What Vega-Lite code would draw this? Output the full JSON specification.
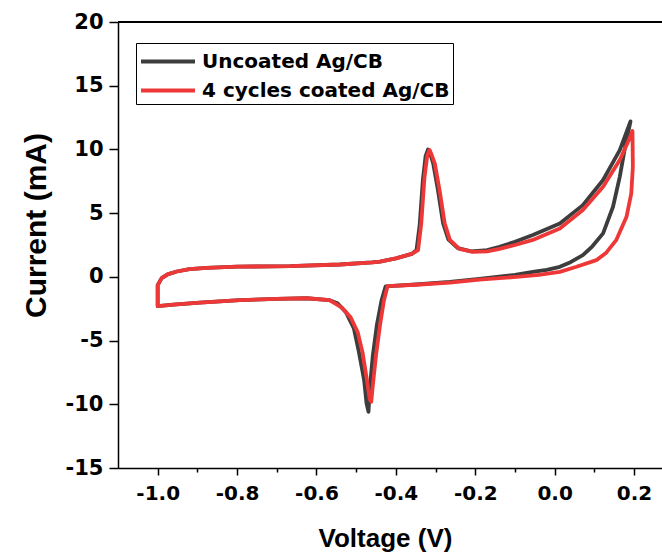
{
  "$schema": "https://vega.github.io/schema/vega-lite/v6.json",
  "width": 544,
  "height": 446,
  "autosize": {"type": "none"},
  "padding": {"left": 118, "top": 22, "right": 0, "bottom": 91},
  "background": "white",
  "config": {
    "view": {"stroke": null},
    "font": "DejaVu Sans",
    "axis": {"domainColor": "black", "domainWidth": 1.5, "tickColor": "black", "tickWidth": 1.5, "labelColor": "black", "titleColor": "black", "labelFont": "DejaVu Sans", "labelFontWeight": "bold", "titleFont": "Liberation Sans", "titleFontWeight": "bold", "grid": false}
  },
  "data": {"values": [
    {"s":"Uncoated Ag/CB","k":0,"v":-1.0,"i":-2.3},
    {"s":"Uncoated Ag/CB","k":1,"v":-1.0,"i":-0.65},
    {"s":"Uncoated Ag/CB","k":2,"v":-0.99,"i":-0.1},
    {"s":"Uncoated Ag/CB","k":3,"v":-0.975,"i":0.2},
    {"s":"Uncoated Ag/CB","k":4,"v":-0.952,"i":0.42},
    {"s":"Uncoated Ag/CB","k":5,"v":-0.92,"i":0.6},
    {"s":"Uncoated Ag/CB","k":6,"v":-0.877,"i":0.7},
    {"s":"Uncoated Ag/CB","k":7,"v":-0.8,"i":0.8},
    {"s":"Uncoated Ag/CB","k":8,"v":-0.667,"i":0.84},
    {"s":"Uncoated Ag/CB","k":9,"v":-0.541,"i":0.97},
    {"s":"Uncoated Ag/CB","k":10,"v":-0.46,"i":1.13},
    {"s":"Uncoated Ag/CB","k":11,"v":-0.44,"i":1.2},
    {"s":"Uncoated Ag/CB","k":12,"v":-0.4,"i":1.45},
    {"s":"Uncoated Ag/CB","k":13,"v":-0.36,"i":1.8},
    {"s":"Uncoated Ag/CB","k":14,"v":-0.348,"i":2.1},
    {"s":"Uncoated Ag/CB","k":15,"v":-0.34,"i":4.1},
    {"s":"Uncoated Ag/CB","k":16,"v":-0.332,"i":7.6},
    {"s":"Uncoated Ag/CB","k":17,"v":-0.325,"i":9.5},
    {"s":"Uncoated Ag/CB","k":18,"v":-0.319,"i":10.0},
    {"s":"Uncoated Ag/CB","k":19,"v":-0.313,"i":9.6},
    {"s":"Uncoated Ag/CB","k":20,"v":-0.306,"i":8.9},
    {"s":"Uncoated Ag/CB","k":21,"v":-0.294,"i":6.8},
    {"s":"Uncoated Ag/CB","k":22,"v":-0.281,"i":4.2},
    {"s":"Uncoated Ag/CB","k":23,"v":-0.268,"i":2.95},
    {"s":"Uncoated Ag/CB","k":24,"v":-0.244,"i":2.25},
    {"s":"Uncoated Ag/CB","k":25,"v":-0.21,"i":2.0},
    {"s":"Uncoated Ag/CB","k":26,"v":-0.17,"i":2.1},
    {"s":"Uncoated Ag/CB","k":27,"v":-0.139,"i":2.36},
    {"s":"Uncoated Ag/CB","k":28,"v":-0.1,"i":2.75},
    {"s":"Uncoated Ag/CB","k":29,"v":-0.055,"i":3.28},
    {"s":"Uncoated Ag/CB","k":30,"v":0.013,"i":4.19},
    {"s":"Uncoated Ag/CB","k":31,"v":0.071,"i":5.63},
    {"s":"Uncoated Ag/CB","k":32,"v":0.122,"i":7.6},
    {"s":"Uncoated Ag/CB","k":33,"v":0.164,"i":9.95},
    {"s":"Uncoated Ag/CB","k":34,"v":0.191,"i":12.2},
    {"s":"Uncoated Ag/CB","k":35,"v":0.176,"i":9.95},
    {"s":"Uncoated Ag/CB","k":36,"v":0.164,"i":7.85},
    {"s":"Uncoated Ag/CB","k":37,"v":0.147,"i":5.5},
    {"s":"Uncoated Ag/CB","k":38,"v":0.122,"i":3.41},
    {"s":"Uncoated Ag/CB","k":39,"v":0.095,"i":2.4},
    {"s":"Uncoated Ag/CB","k":40,"v":0.071,"i":1.7},
    {"s":"Uncoated Ag/CB","k":41,"v":0.04,"i":1.15},
    {"s":"Uncoated Ag/CB","k":42,"v":0.013,"i":0.79},
    {"s":"Uncoated Ag/CB","k":43,"v":-0.02,"i":0.55},
    {"s":"Uncoated Ag/CB","k":44,"v":-0.055,"i":0.39},
    {"s":"Uncoated Ag/CB","k":45,"v":-0.1,"i":0.15},
    {"s":"Uncoated Ag/CB","k":46,"v":-0.19,"i":-0.15},
    {"s":"Uncoated Ag/CB","k":47,"v":-0.264,"i":-0.4},
    {"s":"Uncoated Ag/CB","k":48,"v":-0.35,"i":-0.6},
    {"s":"Uncoated Ag/CB","k":49,"v":-0.426,"i":-0.75},
    {"s":"Uncoated Ag/CB","k":50,"v":-0.436,"i":-1.83},
    {"s":"Uncoated Ag/CB","k":51,"v":-0.448,"i":-3.79},
    {"s":"Uncoated Ag/CB","k":52,"v":-0.458,"i":-6.15},
    {"s":"Uncoated Ag/CB","k":53,"v":-0.465,"i":-8.5},
    {"s":"Uncoated Ag/CB","k":54,"v":-0.469,"i":-10.6},
    {"s":"Uncoated Ag/CB","k":55,"v":-0.474,"i":-9.9},
    {"s":"Uncoated Ag/CB","k":56,"v":-0.48,"i":-8.1},
    {"s":"Uncoated Ag/CB","k":57,"v":-0.494,"i":-5.76},
    {"s":"Uncoated Ag/CB","k":58,"v":-0.506,"i":-4.03},
    {"s":"Uncoated Ag/CB","k":59,"v":-0.526,"i":-2.77},
    {"s":"Uncoated Ag/CB","k":60,"v":-0.547,"i":-2.07},
    {"s":"Uncoated Ag/CB","k":61,"v":-0.567,"i":-1.83},
    {"s":"Uncoated Ag/CB","k":62,"v":-0.625,"i":-1.68},
    {"s":"Uncoated Ag/CB","k":63,"v":-0.7,"i":-1.72},
    {"s":"Uncoated Ag/CB","k":64,"v":-0.793,"i":-1.83},
    {"s":"Uncoated Ag/CB","k":65,"v":-0.894,"i":-2.03},
    {"s":"Uncoated Ag/CB","k":66,"v":-0.96,"i":-2.18},
    {"s":"Uncoated Ag/CB","k":67,"v":-1.0,"i":-2.3},
    {"s":"4 cycles coated Ag/CB","k":0,"v":-1.0,"i":-2.3},
    {"s":"4 cycles coated Ag/CB","k":1,"v":-1.0,"i":-0.65},
    {"s":"4 cycles coated Ag/CB","k":2,"v":-0.99,"i":-0.1},
    {"s":"4 cycles coated Ag/CB","k":3,"v":-0.975,"i":0.2},
    {"s":"4 cycles coated Ag/CB","k":4,"v":-0.952,"i":0.42},
    {"s":"4 cycles coated Ag/CB","k":5,"v":-0.92,"i":0.6},
    {"s":"4 cycles coated Ag/CB","k":6,"v":-0.877,"i":0.7},
    {"s":"4 cycles coated Ag/CB","k":7,"v":-0.8,"i":0.8},
    {"s":"4 cycles coated Ag/CB","k":8,"v":-0.667,"i":0.84},
    {"s":"4 cycles coated Ag/CB","k":9,"v":-0.541,"i":0.97},
    {"s":"4 cycles coated Ag/CB","k":10,"v":-0.458,"i":1.13},
    {"s":"4 cycles coated Ag/CB","k":11,"v":-0.44,"i":1.2},
    {"s":"4 cycles coated Ag/CB","k":12,"v":-0.4,"i":1.45},
    {"s":"4 cycles coated Ag/CB","k":13,"v":-0.36,"i":1.8},
    {"s":"4 cycles coated Ag/CB","k":14,"v":-0.344,"i":2.1},
    {"s":"4 cycles coated Ag/CB","k":15,"v":-0.336,"i":4.2},
    {"s":"4 cycles coated Ag/CB","k":16,"v":-0.328,"i":7.8},
    {"s":"4 cycles coated Ag/CB","k":17,"v":-0.321,"i":9.5},
    {"s":"4 cycles coated Ag/CB","k":18,"v":-0.315,"i":9.95},
    {"s":"4 cycles coated Ag/CB","k":19,"v":-0.309,"i":9.5},
    {"s":"4 cycles coated Ag/CB","k":20,"v":-0.302,"i":8.9},
    {"s":"4 cycles coated Ag/CB","k":21,"v":-0.29,"i":6.8},
    {"s":"4 cycles coated Ag/CB","k":22,"v":-0.277,"i":4.2},
    {"s":"4 cycles coated Ag/CB","k":23,"v":-0.264,"i":2.9},
    {"s":"4 cycles coated Ag/CB","k":24,"v":-0.24,"i":2.2},
    {"s":"4 cycles coated Ag/CB","k":25,"v":-0.206,"i":1.96},
    {"s":"4 cycles coated Ag/CB","k":26,"v":-0.17,"i":2.0},
    {"s":"4 cycles coated Ag/CB","k":27,"v":-0.139,"i":2.2},
    {"s":"4 cycles coated Ag/CB","k":28,"v":-0.1,"i":2.5},
    {"s":"4 cycles coated Ag/CB","k":29,"v":-0.055,"i":2.9},
    {"s":"4 cycles coated Ag/CB","k":30,"v":0.013,"i":3.8},
    {"s":"4 cycles coated Ag/CB","k":31,"v":0.071,"i":5.24},
    {"s":"4 cycles coated Ag/CB","k":32,"v":0.122,"i":7.07},
    {"s":"4 cycles coated Ag/CB","k":33,"v":0.164,"i":9.17},
    {"s":"4 cycles coated Ag/CB","k":34,"v":0.185,"i":10.6},
    {"s":"4 cycles coated Ag/CB","k":35,"v":0.196,"i":11.45},
    {"s":"4 cycles coated Ag/CB","k":36,"v":0.197,"i":8.64},
    {"s":"4 cycles coated Ag/CB","k":37,"v":0.193,"i":6.55},
    {"s":"4 cycles coated Ag/CB","k":38,"v":0.181,"i":4.71},
    {"s":"4 cycles coated Ag/CB","k":39,"v":0.155,"i":2.88},
    {"s":"4 cycles coated Ag/CB","k":40,"v":0.13,"i":1.9},
    {"s":"4 cycles coated Ag/CB","k":41,"v":0.105,"i":1.31},
    {"s":"4 cycles coated Ag/CB","k":42,"v":0.055,"i":0.79},
    {"s":"4 cycles coated Ag/CB","k":43,"v":0.013,"i":0.39},
    {"s":"4 cycles coated Ag/CB","k":44,"v":-0.04,"i":0.15},
    {"s":"4 cycles coated Ag/CB","k":45,"v":-0.096,"i":0.0},
    {"s":"4 cycles coated Ag/CB","k":46,"v":-0.19,"i":-0.22},
    {"s":"4 cycles coated Ag/CB","k":47,"v":-0.264,"i":-0.45},
    {"s":"4 cycles coated Ag/CB","k":48,"v":-0.35,"i":-0.62},
    {"s":"4 cycles coated Ag/CB","k":49,"v":-0.421,"i":-0.73},
    {"s":"4 cycles coated Ag/CB","k":50,"v":-0.43,"i":-1.83},
    {"s":"4 cycles coated Ag/CB","k":51,"v":-0.44,"i":-3.79},
    {"s":"4 cycles coated Ag/CB","k":52,"v":-0.45,"i":-6.15},
    {"s":"4 cycles coated Ag/CB","k":53,"v":-0.458,"i":-8.5},
    {"s":"4 cycles coated Ag/CB","k":54,"v":-0.462,"i":-9.8},
    {"s":"4 cycles coated Ag/CB","k":55,"v":-0.466,"i":-9.6},
    {"s":"4 cycles coated Ag/CB","k":56,"v":-0.474,"i":-7.88},
    {"s":"4 cycles coated Ag/CB","k":57,"v":-0.484,"i":-5.93},
    {"s":"4 cycles coated Ag/CB","k":58,"v":-0.496,"i":-4.36},
    {"s":"4 cycles coated Ag/CB","k":59,"v":-0.514,"i":-3.18},
    {"s":"4 cycles coated Ag/CB","k":60,"v":-0.537,"i":-2.39},
    {"s":"4 cycles coated Ag/CB","k":61,"v":-0.567,"i":-1.83},
    {"s":"4 cycles coated Ag/CB","k":62,"v":-0.625,"i":-1.68},
    {"s":"4 cycles coated Ag/CB","k":63,"v":-0.7,"i":-1.72},
    {"s":"4 cycles coated Ag/CB","k":64,"v":-0.793,"i":-1.83},
    {"s":"4 cycles coated Ag/CB","k":65,"v":-0.894,"i":-2.03},
    {"s":"4 cycles coated Ag/CB","k":66,"v":-0.96,"i":-2.18},
    {"s":"4 cycles coated Ag/CB","k":67,"v":-1.0,"i":-2.3}
  ]},
  "layer": [
    {
      "mark": {"type": "rule", "color": "black", "strokeWidth": 1.5},
      "encoding": {"y": {"datum": 20, "type": "quantitative", "scale": {"domain": [-15, 20], "nice": false}}}
    },
    {
      "mark": {"type": "line", "strokeWidth": 3.8, "strokeJoin": "round", "strokeCap": "round", "clip": true},
      "encoding": {
        "x": {"field": "v", "type": "quantitative", "scale": {"domain": [-1.1, 0.2704], "nice": false, "zero": false},
          "axis": {"title": "Voltage (V)", "titleFontSize": 26, "titlePadding": 22, "titleX": 267, "labelFontSize": 20, "values": [-1.0,-0.9,-0.8,-0.7,-0.6,-0.5,-0.4,-0.3,-0.2,-0.1,0.0,0.1,0.2],
            "labelExpr": "abs(round(datum.value*10)) % 2 === 0 ? replace(format(datum.value, '.1f'), '\u2212', '-') : ''",
            "tickSize": {"condition": {"test": "abs(round(datum.value*10)) % 2 === 0", "value": 7}, "value": 4},
            "labelPadding": 8, "labelFlush": false, "labelOverlap": false}},
        "y": {"field": "i", "type": "quantitative", "scale": {"domain": [-15, 20], "nice": false, "zero": false},
          "axis": {"title": "Current (mA)", "titleFontSize": 30, "titlePadding": 14, "titleY": 203, "labelFontSize": 21, "values": [-15,-12.5,-10,-7.5,-5,-2.5,0,2.5,5,7.5,10,12.5,15,17.5,20],
            "labelExpr": "datum.value % 5 === 0 ? replace(format(datum.value, 'd'), '\u2212', '-') : ''",
            "tickSize": {"condition": {"test": "datum.value % 5 === 0", "value": 9}, "value": 5},
            "labelPadding": 6, "labelOverlap": false}},
        "color": {"field": "s", "type": "nominal",
          "scale": {"domain": ["Uncoated Ag/CB", "4 cycles coated Ag/CB"], "range": ["#3d3d3d", "#ee3838"]},
          "legend": {"title": null, "orient": "none", "legendX": 18, "legendY": 21, "symbolType": "M-1,0H3", "symbolSize": 729, "symbolStrokeWidth": 4, "labelFont": "DejaVu Sans", "labelFontWeight": "bold", "labelFontSize": 20, "labelColor": "black", "labelOffset": 32, "strokeColor": "black", "padding": 3, "rowPadding": 3, "labelLimit": 400}},
        "order": {"field": "k", "type": "quantitative"}
      }
    }
  ]
}
